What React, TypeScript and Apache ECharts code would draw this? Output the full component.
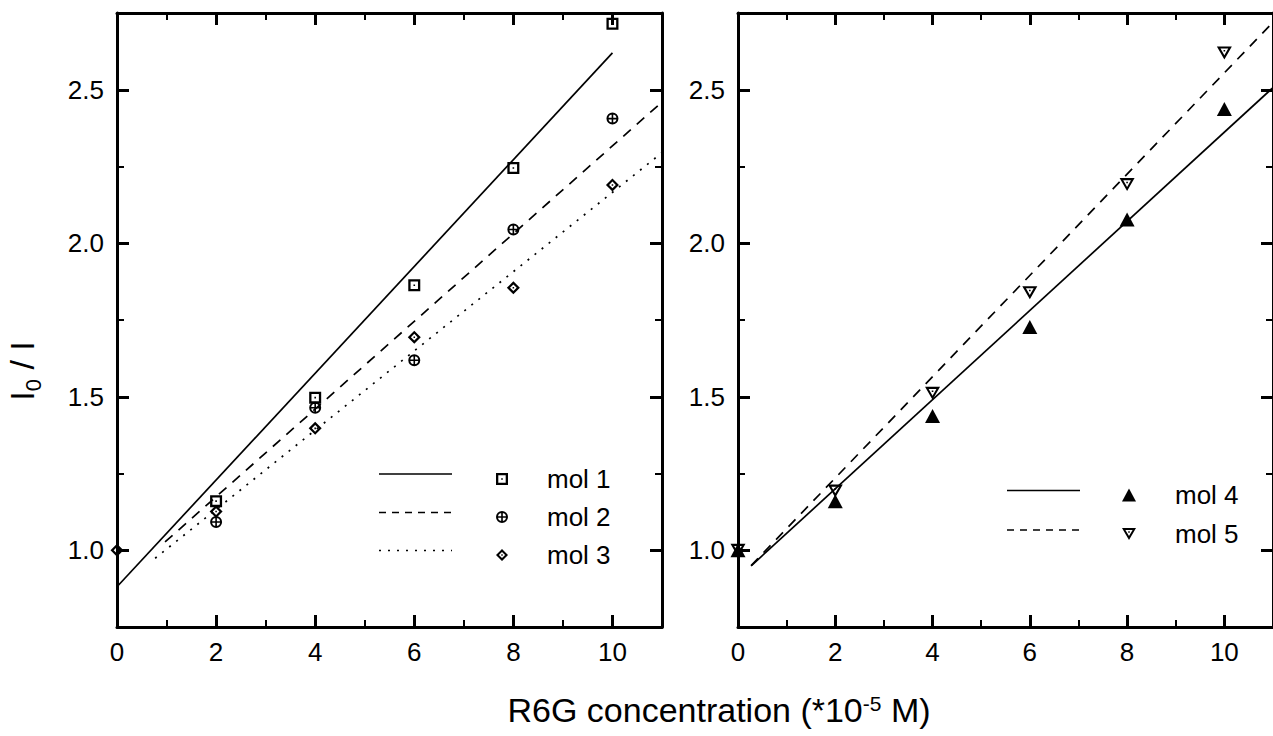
import React, { useEffect, useRef } from "react";
import * as echarts from "echarts";

// ---------- data ----------
const xMajorTicks = [0, 2, 4, 6, 8, 10];
const xMinorTicks = [1, 3, 5, 7, 9];
const yMajorTicks = [1.0, 1.5, 2.0, 2.5];
const yMinorTicks = [1.25, 1.75, 2.25];

const concPartial = [2, 4, 6, 8, 10];
const concAll = [0, 2, 4, 6, 8, 10];

const mol1 = [1.16, 1.497, 1.863, 2.245, 2.715];
const mol2 = [1.092, 1.464, 1.619, 2.045, 2.406];
const mol3 = [1.0, 1.126, 1.397, 1.694, 1.855, 2.19];
const mol4 = [1.0, 1.16, 1.437, 1.727, 2.077, 2.437];
const mol5 = [1.0, 1.193, 1.511, 1.839, 2.191, 2.62];

// linear fit line end points [x, y]
const fit1 = [[0, 0.881], [10, 2.62]];
const fit2 = [[0.97, 1.027], [11, 2.46]];
const fit3 = [[0.77, 0.974], [11, 2.295]];
const fit4 = [[0.27, 0.949], [11, 2.507]];
const fit5 = [[0.27, 0.95], [11, 2.72]];

const legendLeft = ["mol 1", "mol 2", "mol 3"];
const legendRight = ["mol 4", "mol 5"];

// ---------- styles ----------
const FONT = "'Liberation Sans', Arial, Helvetica, sans-serif";
const BLACK = "#000";

const SQUARE =
  "path://M0,0 L12,0 L12,12 L0,12 Z M2.3,2.3 L2.3,9.7 L9.7,9.7 L9.7,2.3 Z M5.2,5.2 L6.8,5.2 L6.8,6.8 L5.2,6.8 Z";
const CIRCLE_PLUS =
  "path://M0,6 A6,6 0 1,1 12,6 A6,6 0 1,1 0,6 Z M2,6 A4,4 0 1,0 10,6 A4,4 0 1,0 2,6 Z M1,5.2 L11,5.2 L11,6.8 L1,6.8 Z M5.2,1 L6.8,1 L6.8,11 L5.2,11 Z";
const DIAMOND =
  "path://M6,0 L12,6 L6,12 L0,6 Z M6,2.9 L2.9,6 L6,9.1 L9.1,6 Z M5.3,5.3 L6.7,5.3 L6.7,6.7 L5.3,6.7 Z";
const DOWN_TRI =
  "path://M0,0 L14,0 L7,12 Z M3.4,2.0 L7,8.1 L10.6,2.0 Z M6.25,3.27 L7.75,3.27 L7.75,4.77 L6.25,4.77 Z";
const UP_TRI = "triangle";

const SOLID = "solid";
const DASH = [10, 8];
const DOT = [2, 7];

const mkX = (g: number, pos: "bottom" | "top", major: boolean) => ({
  type: "value",
  gridIndex: g,
  position: pos,
  min: 0,
  max: 11,
  axisLine: { show: major, onZero: false, lineStyle: { color: BLACK, width: 3 } },
  axisTick: {
    show: true,
    inside: true,
    length: major ? 12 : 7,
    lineStyle: { color: BLACK, width: major ? 3 : 2 },
    customValues: major ? xMajorTicks : xMinorTicks,
  },
  axisLabel: {
    show: major && pos === "bottom",
    customValues: xMajorTicks,
    color: BLACK,
    fontSize: 26,
    fontFamily: FONT,
    margin: 12,
  },
  splitLine: { show: false },
});

const mkY = (g: number, pos: "left" | "right", major: boolean) => ({
  type: "value",
  gridIndex: g,
  position: pos,
  min: 0.75,
  max: 2.75,
  axisLine: { show: major, onZero: false, lineStyle: { color: BLACK, width: 3 } },
  axisTick: {
    show: true,
    inside: true,
    length: major ? 12 : 7,
    lineStyle: { color: BLACK, width: major ? 3 : 2 },
    customValues: major ? yMajorTicks : yMinorTicks,
  },
  axisLabel: {
    show: major && pos === "left",
    customValues: yMajorTicks,
    formatter: (v: number) => v.toFixed(1),
    color: BLACK,
    fontSize: 26,
    fontFamily: FONT,
    margin: 13,
  },
  splitLine: { show: false },
});

const scatter = (name: string, g: number, xs: number[], ys: number[], symbol: string, size: any) => ({
  name,
  type: "scatter",
  xAxisIndex: g * 4,
  yAxisIndex: g * 4,
  symbol,
  symbolSize: size,
  itemStyle: { color: BLACK, borderWidth: 0, opacity: 1 },
  emphasis: { disabled: true },
  data: xs.map((x, i) => [x, ys[i]]),
  z: 5,
});

const fitLine = (name: string, g: number, pts: number[][], type: any) => ({
  name,
  type: "line",
  xAxisIndex: g * 4,
  yAxisIndex: g * 4,
  symbol: "none",
  lineStyle: { color: BLACK, width: 1.7, type },
  data: pts,
  z: 4,
});

const legendLine = (x1: number, x2: number, y: number, dash: any) => ({
  type: "line",
  shape: { x1, y1: y, x2, y2: y },
  style: { stroke: BLACK, lineWidth: 1.7, lineDash: dash === SOLID ? null : dash },
  z: 10,
});

export default function App() {
  const ref = useRef<HTMLDivElement>(null);

  useEffect(() => {
    if (!ref.current) return;
    const chart = echarts.init(ref.current, null, { renderer: "svg" });

    const grids = [
      { left: 117, top: 13, width: 545, height: 614 },
      { left: 738, top: 13, width: 545, height: 614 },
    ];

    const xAxis: any[] = [];
    const yAxis: any[] = [];
    for (let g = 0; g < 2; g++) {
      xAxis.push(mkX(g, "bottom", true), mkX(g, "bottom", false), mkX(g, "top", true), mkX(g, "top", false));
      yAxis.push(mkY(g, "left", true), mkY(g, "left", false), mkY(g, "right", true), mkY(g, "right", false));
    }

    const option: any = {
      animation: false,
      backgroundColor: "#fff",
      textStyle: { fontFamily: FONT, color: BLACK },
      grid: grids,
      xAxis,
      yAxis,
      legend: [
        {
          orient: "vertical",
          left: 491,
          top: 461,
          itemWidth: 12,
          itemHeight: 12,
          itemGap: 12,
          selectedMode: false,
          itemStyle: { opacity: 1 },
          textStyle: { fontSize: 26, fontFamily: FONT, color: BLACK, padding: [0, 0, 0, 34] },
          data: [
            { name: legendLeft[0], icon: SQUARE },
            { name: legendLeft[1], icon: CIRCLE_PLUS },
            { name: legendLeft[2], icon: DIAMOND },
          ],
        },
        {
          orient: "vertical",
          left: 1117,
          top: 477,
          itemWidth: 14,
          itemHeight: 13,
          itemGap: 13,
          selectedMode: false,
          itemStyle: { opacity: 1 },
          textStyle: { fontSize: 26, fontFamily: FONT, color: BLACK, padding: [0, 0, 0, 34] },
          data: [
            { name: legendRight[0], icon: UP_TRI },
            { name: legendRight[1], icon: DOWN_TRI },
          ],
        },
      ],
      graphic: [
        legendLine(379, 452, 474, SOLID),
        legendLine(379, 452, 512.5, [7, 6]),
        legendLine(379, 452, 550.5, DOT),
        legendLine(1007, 1080, 490.5, SOLID),
        legendLine(1007, 1080, 530, [7, 6]),
        {
          type: "text",
          x: 33,
          y: 371,
          rotation: Math.PI / 2,
          style: {
            text: "{a|I}{b|0}{a| / I}",
            align: "center",
            verticalAlign: "middle",
            fill: BLACK,
            rich: {
              a: { fontSize: 34, fontFamily: FONT, fill: BLACK, verticalAlign: "top", lineHeight: 34 },
              b: { fontSize: 22, fontFamily: FONT, fill: BLACK, lineHeight: 56 },
            },
          },
        },
        {
          type: "text",
          x: 719,
          y: 710,
          style: {
            text: "{a|R6G concentration (*10}{s|-5}{a| M)}",
            align: "center",
            verticalAlign: "middle",
            fill: BLACK,
            rich: {
              a: { fontSize: 34, fontFamily: FONT, fill: BLACK, lineHeight: 34 },
              s: { fontSize: 21, fontFamily: FONT, fill: BLACK, verticalAlign: "top" },
            },
          },
        },
      ],
      series: [
        fitLine("fit 1", 0, fit1, SOLID),
        fitLine("fit 2", 0, fit2, DASH),
        fitLine("fit 3", 0, fit3, DOT),
        scatter(legendLeft[0], 0, concPartial, mol1, SQUARE, 12),
        scatter(legendLeft[1], 0, concPartial, mol2, CIRCLE_PLUS, 12),
        scatter(legendLeft[2], 0, concAll, mol3, DIAMOND, 13),
        fitLine("fit 4", 1, fit4, SOLID),
        fitLine("fit 5", 1, fit5, DASH),
        scatter(legendRight[0], 1, concAll, mol4, UP_TRI, [15, 14]),
        scatter(legendRight[1], 1, concAll, mol5, DOWN_TRI, [15, 13]),
      ],
    };

    chart.setOption(option);
    return () => chart.dispose();
  }, []);

  return (
    <div
      ref={ref}
      style={{ position: "fixed", left: 0, top: 0, width: 1273, height: 736, background: "#fff" }}
    />
  );
}
